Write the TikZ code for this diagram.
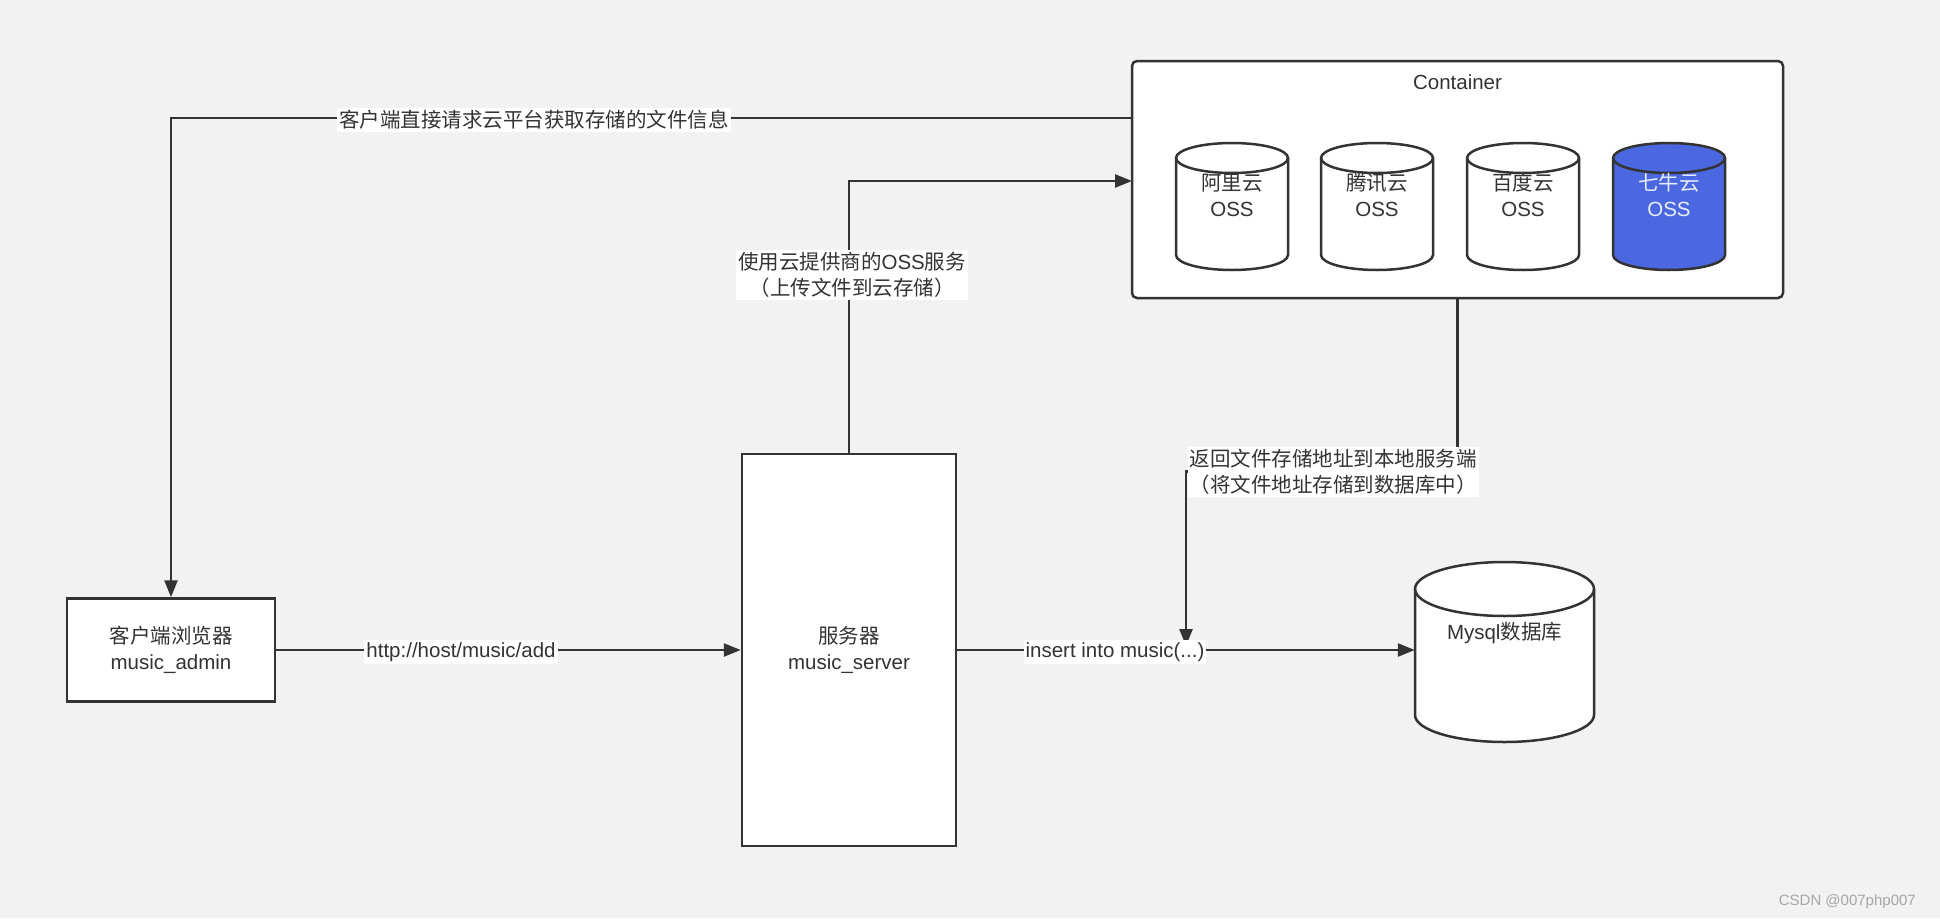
\documentclass[tikz,border=0pt]{standalone}
\usepackage{fontspec}
\setmainfont{Liberation Sans}
\newfontfamily\cjk{Noto Sans CJK SC}
\usetikzlibrary{arrows.meta}
\definecolor{bg}{HTML}{F2F2F2}
\definecolor{ink}{HTML}{333333}
\definecolor{ossblue}{HTML}{4B68E0}
\definecolor{wmgray}{HTML}{A6A6A6}
\newcommand\fsz{\fontsize{20.5}{26}\selectfont}
% cylinder: cx, top, bottom, rx, ry, fill
\newcommand\drawcyl[6]{%
  \draw[ink, line width=2.5pt, fill=#6] ({#1-#4},{-(#2+#5)}) -- ({#1-#4},{-(#3-#5)})
    arc[start angle=180,end angle=360,x radius=#4pt,y radius=#5pt]
    -- ({#1+#4},{-(#2+#5)})
    arc[start angle=0,end angle=180,x radius=#4pt,y radius=#5pt] -- cycle;
  \draw[ink, line width=2.5pt] ({#1-#4},{-(#2+#5)})
    arc[start angle=180,end angle=360,x radius=#4pt,y radius=#5pt];
}
\tikzset{
  box/.style={draw=ink, line width=2.5pt, fill=white, inner sep=0pt, text=ink, font=\fsz, align=center},
  lbl/.style={fill=white, inner sep=2pt, text=ink, font=\fsz, align=center},
  txt/.style={inner sep=0pt, text=ink, font=\fsz, align=center},
  conn/.style={draw=ink, line width=2.5pt, -{Triangle[length=17pt,width=13pt]}},
}
\begin{document}
\begin{tikzpicture}[x=1pt,y=1pt]
\fill[bg] (0,0) rectangle (1940,-918);
\useasboundingbox (0,0) rectangle (1940,-918);

% container
\node[box, rounded corners=5pt, minimum width=651pt, minimum height=237pt] (container) at (1457.5,-179.5) {};
\node[txt] (contlbl) at (1457.5,-82) {Container};

% OSS cylinders
\drawcyl{1232}{143}{270}{56}{15}{white}
\drawcyl{1377}{143}{270}{56}{15}{white}
\drawcyl{1523}{143}{270}{56}{15}{white}
\drawcyl{1669}{143}{270}{56}{15}{ossblue}
\node[txt] (ali) at (1232,-195) {{\cjk 阿里云}\\OSS};
\node[txt] (tx) at (1377,-195) {{\cjk 腾讯云}\\OSS};
\node[txt] (bd) at (1523,-195) {{\cjk 百度云}\\OSS};
\node[txt, text=white!88!ossblue] (qn) at (1669,-195) {{\cjk 七牛云}\\OSS};

% client and server
\node[box, minimum width=208pt, minimum height=103pt] (client) at (171,-650) {{\cjk 客户端浏览器}\\music\_admin};
\node[box, minimum width=214pt, minimum height=392pt] (server) at (849,-650) {{\cjk 服务器}\\music\_server};

% mysql
\drawcyl{1504.5}{562}{742}{89.5}{27}{white}
\node[inner sep=0pt, minimum width=179pt, minimum height=180pt] (mysql) at (1504.5,-652) {};
\node[txt] (mysqltxt) at (1504.5,-633) {Mysql{\cjk 数据库}};

% connectors
\coordinate (t1) at (1132,-118);
\coordinate (t2) at (1132,-181);
\coordinate (t3) at (1186,-646);
\draw[conn] (t1) -| (client.north);
\draw[conn] (server.north) |- (t2);
\draw[conn] (container.south) -- ++(0,-172) -| (t3);
\draw[conn] (client.east) -- (server.west);
\draw[conn] (server.east) -- (server.east -| mysql.west);

% labels
\node[lbl] (l1) at (534,-120) {\cjk 客户端直接请求云平台获取存储的文件信息};
\node[lbl] (l2) at (852,-275) {{\cjk 使用云提供商的}OSS{\cjk 服务}\\{\cjk （上传文件到云存储）}};
\node[lbl] (l3) at (1333,-472) {{\cjk 返回文件存储地址到本地服务端}\\{\cjk （将文件地址存储到数据库中）}};
\node[lbl] (l4) at (461,-652) {http://host/music/add};
\node[lbl] (l5) at (1115,-652) {insert into music(...)};

% watermark
\node[inner sep=0pt, text=wmgray, font=\fontsize{15}{18}\selectfont, anchor=east] (wm) at (1916,-902) {CSDN @007php007};
\end{tikzpicture}
\end{document}
